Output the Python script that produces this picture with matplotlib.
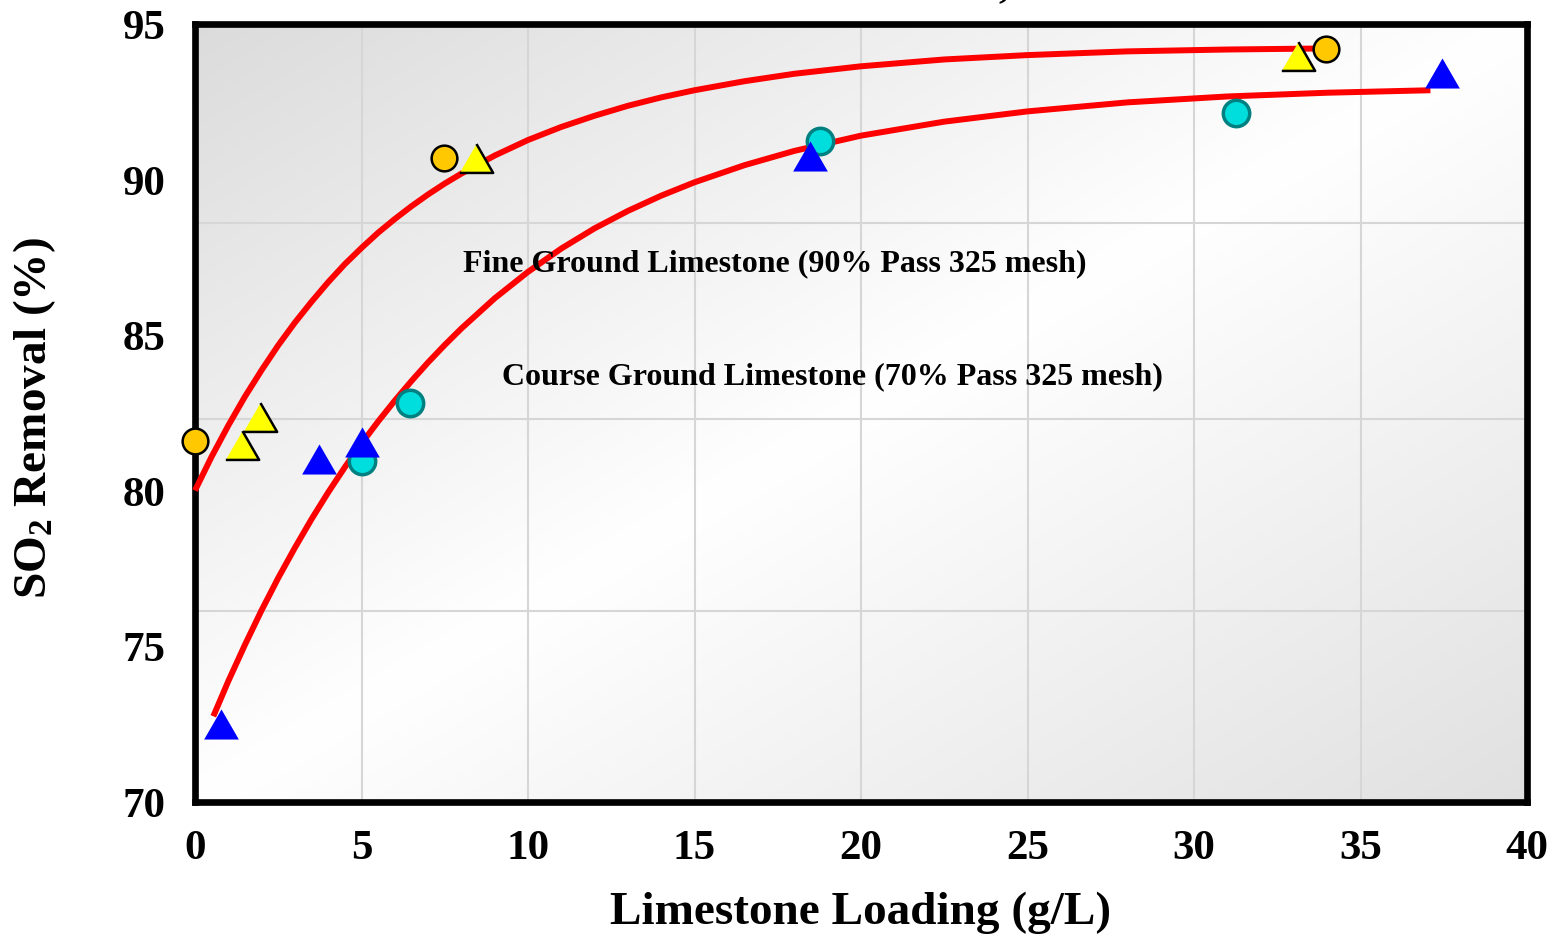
import numpy as np
import matplotlib
matplotlib.use("Agg")
import matplotlib.pyplot as plt

# ---------------- data ----------------
fine_circle_x = [0.0, 7.48, 33.96]
fine_circle_y = [81.58, 90.69, 94.20]

fine_tri_x = [1.41, 1.95, 8.44, 33.12]
fine_tri_y = [81.45, 82.35, 90.69, 93.97]

coarse_tri_x = [0.78, 3.72, 5.0, 18.47, 37.45]
coarse_tri_y = [72.48, 81.0, 81.55, 90.75, 93.42]

coarse_circle_x = [5.0, 6.46, 18.77, 31.26]
coarse_circle_y = [80.94, 82.8, 91.24, 92.14]

# trend lines
fine_curve_x = [0.0, 0.5, 1.0, 1.5, 2.0, 2.5, 3.0, 3.5, 4.0, 4.5, 5.0, 5.5, 6.0, 6.5,
                7.0, 7.5, 8.0, 9.0, 10.0, 11.0, 12.0, 13.0, 14.0, 15.0, 16.5, 18.0,
                20.0, 22.5, 25.0, 28.0, 31.0, 33.6]
fine_curve_y = [80.0, 81.09, 82.09, 83.02, 83.87, 84.67, 85.4, 86.07, 86.7, 87.28, 87.8,
                88.29, 88.73, 89.14, 89.52, 89.87, 90.19, 90.77, 91.27, 91.69, 92.05,
                92.37, 92.64, 92.87, 93.16, 93.4, 93.64, 93.86, 94.0, 94.12, 94.18, 94.21]

coarse_curve_x = [0.55, 1.0, 1.5, 2.0, 2.5, 3.0, 3.5, 4.0, 4.5, 5.0, 5.5, 6.0, 6.5, 7.0,
                  7.5, 8.0, 9.0, 10.0, 11.0, 12.0, 13.0, 14.0, 15.0, 16.5, 18.0, 20.0,
                  22.5, 25.0, 28.0, 31.0, 34.0, 37.1]
coarse_curve_y = [72.74, 73.87, 75.04, 76.15, 77.19, 78.16, 79.08, 79.94, 80.75, 81.51,
                  82.22, 82.89, 83.52, 84.12, 84.68, 85.21, 86.18, 87.03, 87.78, 88.43,
                  88.99, 89.48, 89.91, 90.46, 90.92, 91.41, 91.86, 92.19, 92.48, 92.67,
                  92.79, 92.87]

x_ticks = [0, 5, 10, 15, 20, 25, 30, 35, 40]
y_ticks = [70, 75, 80, 85, 90, 95]
grid_x = [5, 10, 15, 20, 25, 30, 35]
grid_y = [76.13, 82.3, 88.6]

label_fine = "Fine Ground Limestone (90% Pass 325 mesh)"
label_coarse = "Course Ground Limestone (70% Pass 325 mesh)"
x_label = "Limestone Loading (g/L)"
y_label = r"SO$_\mathbf{2}$ Removal (%)"

# ---------------- figure ----------------
plt.rcParams['font.family'] = ['Liberation Serif', 'DejaVu Serif']
plt.rcParams['mathtext.fontset'] = 'custom'
plt.rcParams['mathtext.rm'] = 'Liberation Serif:bold'
plt.rcParams['mathtext.bf'] = 'Liberation Serif:bold'
plt.rcParams['mathtext.it'] = 'Liberation Serif:bold'

fig = plt.figure(figsize=(15.53, 9.37), dpi=100)
ax = fig.add_axes([195/1553, 1 - 802.5/937, (1527-195)/1553, (802.5-25)/937])
ax.set_xlim(0, 40)
ax.set_ylim(70, 95)

# gradient background
n = 300
u = np.linspace(0, 1, n)
U, V = np.meshgrid(u, u)  # V: 0 at top row (origin upper)
t = (U + V) / 2.0
c = np.where(t < 0.5, 1 - 0.14 * (1 - 2 * t), 1 - 0.12 * (2 * t - 1))
img = np.dstack([c, c, c])
ax.imshow(img, extent=[0, 1, 0, 1], transform=ax.transAxes, aspect='auto',
          origin='upper', zorder=0, interpolation='bilinear')

for gx in grid_x:
    ax.axvline(gx, color='#d6d6d6', lw=1.5, zorder=1)
for gy in grid_y:
    ax.axhline(gy, color='#d6d6d6', lw=1.5, zorder=1)

# curves
ax.plot(fine_curve_x, fine_curve_y, color='#ff0000', lw=4.3, solid_capstyle='butt',
        solid_joinstyle='round', zorder=3, clip_on=False)
ax.plot(coarse_curve_x, coarse_curve_y, color='#ff0000', lw=4.3, solid_capstyle='butt',
        solid_joinstyle='round', zorder=3, clip_on=False)

tri = [(-1, -0.866), (1, -0.866), (0, 0.866)]

ax.plot(coarse_circle_x, coarse_circle_y, 'o', ms=19, mfc='#00dddd', mec='#008080',
        mew=2.5, ls='none', zorder=4, clip_on=False)
ax.plot(coarse_tri_x, coarse_tri_y, marker=tri, ms=25, mfc='#0000ff', mec='none',
        ls='none', zorder=5, clip_on=False)
ax.plot(fine_tri_x, fine_tri_y, marker=tri, ms=24, mfc='#ffff00', mec='black',
        mew=1.8, ls='none', zorder=6, clip_on=False)
ax.plot(fine_circle_x, fine_circle_y, 'o', ms=18.5, mfc='#ffc800', mec='black',
        mew=1.8, ls='none', zorder=7, clip_on=False)

# annotations
ax.text(8.05, 87.33, label_fine, fontsize=23, fontweight='bold', va='center', ha='left', zorder=8)
ax.text(9.22, 83.7, label_coarse, fontsize=23, fontweight='bold', va='center', ha='left', zorder=8)

# axes styling
for s in ax.spines.values():
    s.set_linewidth(4.8)
    s.set_color('black')
    s.set_zorder(2.5)
ax.set_xticks(x_ticks)
ax.set_yticks(y_ticks)
ax.set_xticklabels([str(v) for v in x_ticks], fontsize=31, fontweight='bold')
ax.set_yticklabels([str(v) for v in y_ticks], fontsize=31, fontweight='bold')
ax.tick_params(axis='x', length=0, pad=20)
ax.tick_params(axis='y', length=0, pad=21)

ax.set_xlabel(x_label, fontsize=34, fontweight='bold')
ax.set_ylabel(y_label, fontsize=34, fontweight='bold')
ax.xaxis.set_label_coords(0.5, (802.5 - 913) / 777.5)
ax.xaxis.label.set_va('center')
ax.yaxis.set_label_coords((35 - 195) / 1332, (802.5 - 418.5) / 777.5)
ax.yaxis.label.set_va('center')

# cut-off title fragment at top edge
fig.text(1004/1553, 1 + 4/937, ",", fontsize=30, fontweight='bold', ha='center', va='baseline')

fig.savefig("out.png", dpi=100)
